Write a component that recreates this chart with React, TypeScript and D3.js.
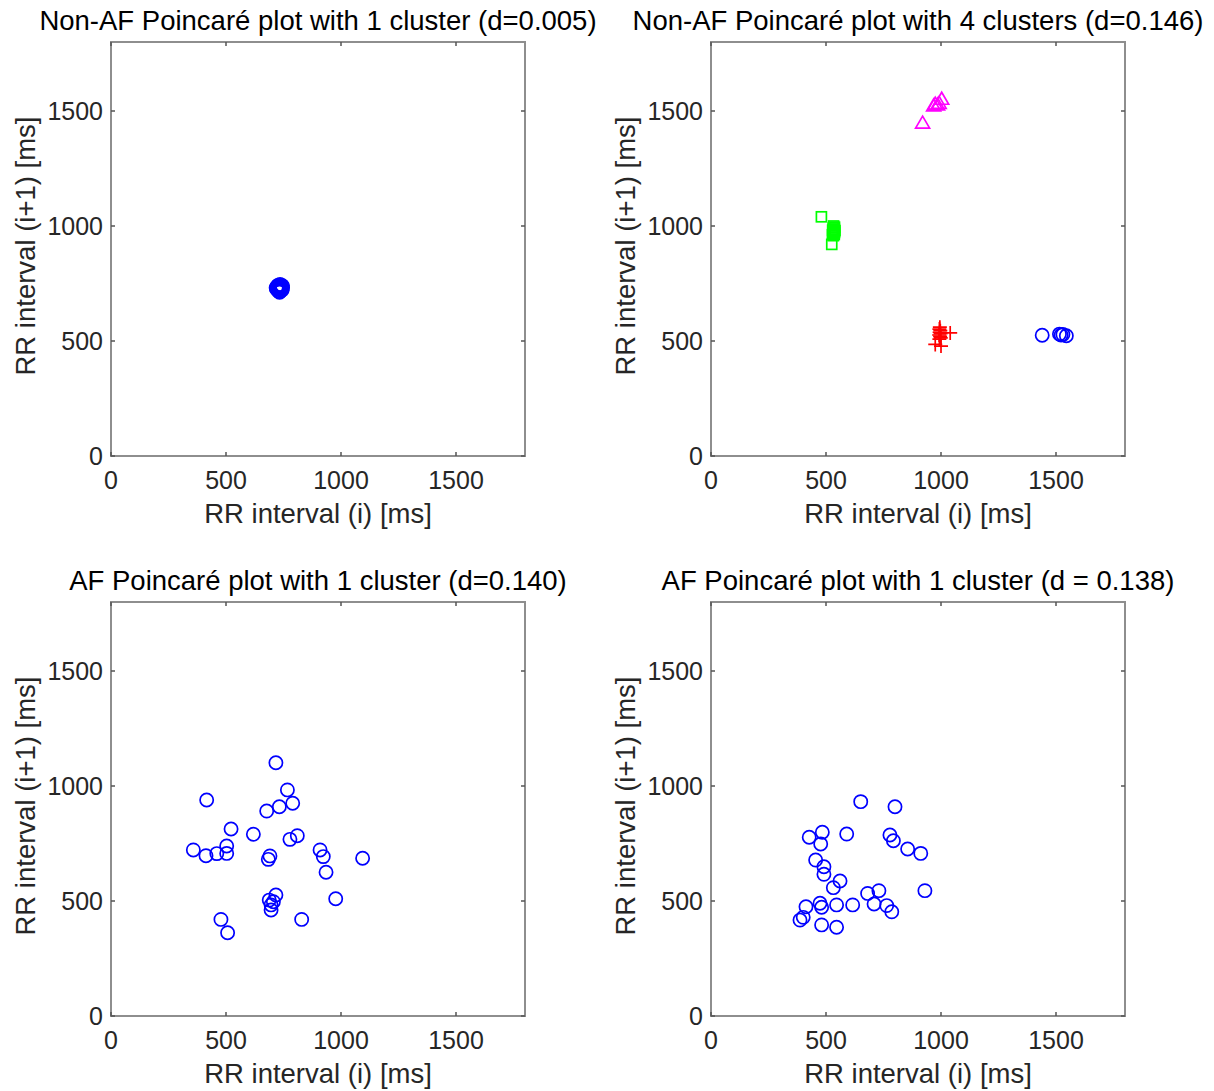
import React from "react";
import * as d3 from "d3";

// data (ms)
const titles = [
  "Non-AF Poincaré plot with 1 cluster (d=0.005)",
  "Non-AF Poincaré plot with 4 clusters (d=0.146)",
  "AF Poincaré plot with 1 cluster (d=0.140)",
  "AF Poincaré plot with 1 cluster (d = 0.138)",
];
const ticks = [0, 500, 1000, 1500];
const axisMax = 1800;

// panel 1: tight single cluster
const nonAf1 = [
  [722, 735], [728, 742], [735, 746], [742, 740], [746, 732], [744, 722],
  [736, 716], [727, 718], [720, 726], [725, 730], [740, 728], [732, 738],
  [730, 724], [738, 733], [724, 740], [745, 740], [718, 731], [733, 712],
];

// panel 2: four clusters
const clusterBlue = [[1440, 525], [1515, 530], [1522, 526], [1530, 528], [1545, 523]];
const clusterRed = [
  [1040, 535], [975, 485], [1000, 478], [995, 560], [993, 552], [997, 545],
  [994, 538], [998, 532], [992, 526], [996, 520], [999, 514], [993, 508],
];
const clusterGreen = [
  [480, 1040], [525, 920], [532, 958], [536, 963], [530, 968], [537, 972],
  [533, 977], [529, 982], [536, 986], [531, 991], [537, 995], [533, 1000],
  [528, 962], [539, 980],
];
const clusterMagenta = [[920, 1447], [968, 1522], [975, 1530], [985, 1526], [992, 1533], [1003, 1551]];

// panel 3: AF
const af1 = [
  [717, 1101], [416, 939], [767, 983], [790, 925], [732, 910], [677, 891],
  [522, 813], [619, 790], [778, 768], [810, 784], [358, 722], [413, 697],
  [460, 706], [503, 739], [503, 707], [684, 681], [691, 696], [909, 722],
  [923, 693], [935, 625], [1094, 686], [977, 510], [717, 526], [688, 504],
  [696, 483], [706, 497], [696, 461], [829, 420], [478, 420], [507, 362],
];

// panel 4: AF
const af2 = [
  [651, 932], [800, 910], [427, 777], [484, 799], [477, 748], [590, 791],
  [778, 787], [793, 762], [855, 726], [912, 707], [455, 678], [491, 649],
  [491, 616], [561, 587], [532, 558], [681, 533], [730, 545], [930, 545],
  [413, 475], [474, 490], [481, 473], [546, 483], [616, 483], [709, 487],
  [764, 480], [786, 453], [387, 417], [401, 429], [481, 396], [546, 386],
];

const FONT = "'Liberation Sans', Arial, Helvetica, sans-serif";
const TXT = "#262626";
const SIZE = 414;

type Pt = number[];
type Series = { pts: Pt[]; shape: string; color: string };

const panels: { x0: number; y0: number; series: Series[] }[] = [
  { x0: 111, y0: 42, series: [{ pts: nonAf1, shape: "circle", color: "#0000ff" }] },
  {
    x0: 711,
    y0: 42,
    series: [
      { pts: clusterBlue, shape: "circle", color: "#0000ff" },
      { pts: clusterRed, shape: "plus", color: "#ff0000" },
      { pts: clusterGreen, shape: "square", color: "#00ff00" },
      { pts: clusterMagenta, shape: "triangle", color: "#ff00ff" },
    ],
  },
  { x0: 111, y0: 602, series: [{ pts: af1, shape: "circle", color: "#0000ff" }] },
  { x0: 711, y0: 602, series: [{ pts: af2, shape: "circle", color: "#0000ff" }] },
];

function Marker({ shape, x, y, color }: { shape: string; x: number; y: number; color: string }) {
  const common = { fill: "none", stroke: color, strokeWidth: 1.7 };
  if (shape === "circle") return <circle cx={x} cy={y} r={6.6} {...common} />;
  if (shape === "square") return <rect x={x - 5} y={y - 5} width={10} height={10} {...common} />;
  if (shape === "triangle") {
    const tri = d3.path();
    tri.moveTo(x, y - 7);
    tri.lineTo(x + 7, y + 5);
    tri.lineTo(x - 7, y + 5);
    tri.closePath();
    return <path d={tri.toString()} {...common} />;
  }
  return <path d={`M${x - 7},${y}H${x + 7}M${x},${y - 7}V${y + 7}`} {...common} />;
}

function Panel({ idx }: { idx: number }) {
  const { x0, y0, series } = panels[idx];
  const x = d3.scaleLinear().domain([0, axisMax]).range([x0, x0 + SIZE]);
  const y = d3.scaleLinear().domain([0, axisMax]).range([y0 + SIZE, y0]);
  const cx = x0 + SIZE / 2;
  const cy = y0 + SIZE / 2;
  const tl = 4;
  return (
    <g>
      <text x={cx} y={y0 - 12} textAnchor="middle" fontSize={27.5} fill="#000" fontFamily={FONT}>
        {titles[idx]}
      </text>
      {series.map((s, si) =>
        s.pts.map((p, i) => (
          <Marker key={si + "-" + i} shape={s.shape} x={x(p[0])} y={y(p[1])} color={s.color} />
        ))
      )}
      {/* box */}
      <rect x={x0} y={y0} width={SIZE} height={SIZE} fill="none" stroke="#8e8e8e" strokeWidth={2} />
      {ticks.map((t) => (
        <g key={t}>
          <line x1={x(t)} x2={x(t)} y1={y0 + SIZE} y2={y0 + SIZE - tl} stroke="#555" strokeWidth={1.5} />
          <line x1={x(t)} x2={x(t)} y1={y0} y2={y0 + tl} stroke="#555" strokeWidth={1.5} />
          <line x1={x0} x2={x0 + tl} y1={y(t)} y2={y(t)} stroke="#555" strokeWidth={1.5} />
          <line x1={x0 + SIZE} x2={x0 + SIZE - tl} y1={y(t)} y2={y(t)} stroke="#555" strokeWidth={1.5} />
          <text x={x(t)} y={y0 + SIZE + 33} textAnchor="middle" fontSize={25} fill={TXT} fontFamily={FONT}>
            {t}
          </text>
          <text x={x0 - 8} y={y(t) + 9} textAnchor="end" fontSize={25} fill={TXT} fontFamily={FONT}>
            {t}
          </text>
        </g>
      ))}
      <text x={cx} y={y0 + SIZE + 67} textAnchor="middle" fontSize={27.5} fill={TXT} fontFamily={FONT}>
        RR interval (i) [ms]
      </text>
      <text
        transform={`translate(${x0 - 76},${cy - 3}) rotate(-90)`}
        textAnchor="middle"
        fontSize={27.5}
        fill={TXT}
        fontFamily={FONT}
      >
        RR interval (i+1) [ms]
      </text>
    </g>
  );
}

export default function App() {
  return (
    <svg
      width={1214}
      height={1091}
      style={{ position: "absolute", left: 0, top: 0, background: "#fff" }}
    >
      {titles.map((_, i) => (
        <Panel key={i} idx={i} />
      ))}
    </svg>
  );
}
